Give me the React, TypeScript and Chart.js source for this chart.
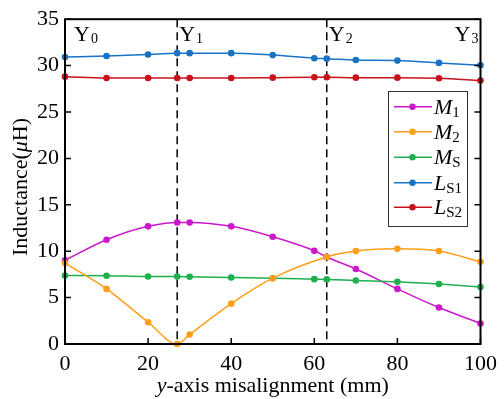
import React, { useEffect, useRef } from "react";
import { Chart, registerables } from "chart.js";

Chart.register(...registerables);

const xPos = [0, 10, 20, 27, 30, 40, 50, 60, 63, 70, 80, 90, 100];
const M1 = [9.03, 11.24, 12.68, 13.1, 13.1, 12.68, 11.56, 10.05, 9.38, 8.08, 5.94, 3.93, 2.21];
const M2 = [8.72, 5.94, 2.35, 0.0, 1.02, 4.35, 7.09, null, 9.38, 10.01, 10.26, 10.01, 8.86];
const MS = [7.38, 7.36, 7.27, 7.27, 7.24, 7.17, 7.09, 6.99, 6.96, 6.85, 6.71, 6.46, 6.15];
const LS1 = [30.92, 31.03, 31.2, 31.34, 31.34, 31.34, 31.13, 30.8, 30.75, 30.6, 30.54, 30.29, 30.04];
const LS2 = [28.81, 28.67, 28.67, 28.67, 28.67, 28.67, 28.7, 28.74, 28.74, 28.7, 28.7, 28.63, 28.39];

const seriesMain = ["M", "M", "M", "L", "L"];
const seriesSub = ["1", "2", "S", "S1", "S2"];
const seriesColors = ["#CC17CC", "#FF9E1B", "#1FB04E", "#1A72C6", "#C8121C"];
const seriesData = [M1, M2, MS, LS1, LS2];
const seriesOrder = [2, 0, 1, 3, 4];

const markerX = [27, 63];
const markerLabels = ["Y", "Y", "Y", "Y"];
const markerSubs = ["0", "1", "2", "3"];
const markerPos = [0, 27, 63, 100];

const yTicks = [0, 5, 10, 15, 20, 25, 30, 35];
const xTicks = [0, 20, 40, 60, 80, 100];

const SERIF = "'Liberation Serif', 'Times New Roman', serif";

const overlay = {
  id: "overlay",
  beforeDatasetsDraw(chart: any) {
    const { ctx, chartArea, scales } = chart;
    ctx.save();
    ctx.strokeStyle = "#000";
    ctx.lineWidth = 1.5;
    ctx.setLineDash([8, 5]);
    markerX.forEach((v) => {
      const px = scales.x.getPixelForValue(v);
      ctx.beginPath();
      ctx.moveTo(px, chartArea.top);
      ctx.lineTo(px, chartArea.bottom);
      ctx.stroke();
    });
    ctx.restore();
  },
  afterDraw(chart: any) {
    const { ctx, chartArea, scales } = chart;
    const { left, right, top, bottom } = chartArea;
    ctx.save();
    // frame
    ctx.strokeStyle = "#000";
    ctx.lineWidth = 2;
    ctx.setLineDash([]);
    ctx.strokeRect(left, top, right - left, bottom - top);
    // inward ticks
    const tl = 6;
    ctx.lineWidth = 1.5;
    ctx.beginPath();
    yTicks.forEach((v) => {
      const py = scales.y.getPixelForValue(v);
      ctx.moveTo(left, py);
      ctx.lineTo(left + tl, py);
      ctx.moveTo(right, py);
      ctx.lineTo(right - tl, py);
    });
    xTicks.forEach((v) => {
      const px = scales.x.getPixelForValue(v);
      ctx.moveTo(px, bottom);
      ctx.lineTo(px, bottom - tl);
    });
    ctx.stroke();

    ctx.fillStyle = "#000";
    ctx.textBaseline = "alphabetic";
    // Y markers
    markerPos.forEach((v, i) => {
      const px = scales.x.getPixelForValue(v);
      ctx.font = `22px ${SERIF}`;
      const w1 = ctx.measureText(markerLabels[i]).width;
      ctx.font = `14px ${SERIF}`;
      const w2 = ctx.measureText(markerSubs[i]).width;
      let x0 = px + (i === 0 ? 9 : 2);
      if (i === markerPos.length - 1) x0 = px - 3 - w1 - w2;
      const by = top + 22;
      ctx.font = `22px ${SERIF}`;
      ctx.fillText(markerLabels[i], x0, by);
      ctx.font = `14px ${SERIF}`;
      ctx.fillText(markerSubs[i], x0 + w1 + 1, by + 2);
    });

    // legend
    const lx = 388, ly = 91, lw = 79, lh = 135;
    ctx.fillStyle = "#fff";
    ctx.fillRect(lx, ly, lw, lh);
    ctx.strokeStyle = "#333";
    ctx.lineWidth = 1;
    ctx.strokeRect(lx + 0.5, ly + 0.5, lw, lh);
    const rowY = [106.7, 131.7, 157.3, 182.7, 207.3];
    chart.data.datasets.forEach((ds: any, i: number) => {
      const y = rowY[i];
      ctx.strokeStyle = ds.borderColor;
      ctx.lineWidth = 1.5;
      ctx.beginPath();
      ctx.moveTo(394, y);
      ctx.lineTo(432, y);
      ctx.stroke();
      ctx.fillStyle = ds.borderColor;
      ctx.beginPath();
      ctx.arc(412.5, y, 3.2, 0, Math.PI * 2);
      ctx.fill();
      ctx.fillStyle = "#000";
      ctx.font = `italic 22px ${SERIF}`;
      ctx.fillText(seriesMain[i], 434, y + 7);
      const w = ctx.measureText(seriesMain[i]).width;
      ctx.font = `15px ${SERIF}`;
      ctx.fillText(seriesSub[i], 434 + w, y + 10);
    });

    // x title
    ctx.fillStyle = "#000";
    const xParts: [string, boolean][] = [["y", true], ["-axis misalignment (mm)", false]];
    let total = 0;
    xParts.forEach(([t, it]) => {
      ctx.font = `${it ? "italic " : ""}22px ${SERIF}`;
      total += ctx.measureText(t).width;
    });
    let cx = (left + right) / 2 - total / 2;
    xParts.forEach(([t, it]) => {
      ctx.font = `${it ? "italic " : ""}22px ${SERIF}`;
      ctx.fillText(t, cx, 392);
      cx += ctx.measureText(t).width;
    });

    // y title
    const yParts: [string, boolean][] = [["Inductance(", false], ["\u03bc", true], ["H)", false]];
    total = 0;
    yParts.forEach(([t, it]) => {
      ctx.font = `${it ? "italic " : ""}22px ${SERIF}`;
      total += ctx.measureText(t).width;
    });
    ctx.translate(27, 187);
    ctx.rotate(-Math.PI / 2);
    cx = -total / 2;
    yParts.forEach(([t, it]) => {
      ctx.font = `${it ? "italic " : ""}22px ${SERIF}`;
      ctx.fillText(t, cx, 0);
      cx += ctx.measureText(t).width;
    });
    ctx.restore();
  },
};

export default function App() {
  const ref = useRef<HTMLCanvasElement>(null);
  useEffect(() => {
    if (!ref.current) return;
    const chart = new Chart(ref.current, {
      type: "line",
      data: {
        datasets: seriesData.map((arr, i) => ({
          label: seriesMain[i] + seriesSub[i],
          data: xPos.map((x, j) => ({ x, y: arr[j] })),
          borderColor: seriesColors[i],
          backgroundColor: seriesColors[i],
          borderWidth: 1.5,
          pointRadius: 3.3,
          pointHoverRadius: 3.3,
          pointBorderWidth: 0,
          cubicInterpolationMode: "monotone" as const,
          spanGaps: true,
          clip: false as any,
          order: seriesOrder[i],
        })),
      },
      options: {
        animation: false,
        responsive: false,
        events: [],
        layout: { padding: { left: 0, top: 13, right: 18, bottom: 0 } },
        plugins: { legend: { display: false }, tooltip: { enabled: false } },
        scales: {
          x: {
            type: "linear",
            min: 0,
            max: 100,
            afterBuildTicks: (s: any) => {
              s.ticks = xTicks.map((v) => ({ value: v }));
            },
            afterFit: (s: any) => {
              s.height = 55;
            },
            grid: { display: false, drawTicks: false },
            border: { display: false },
            ticks: { color: "#000", font: { family: SERIF, size: 22 }, padding: 7, maxRotation: 0 },
          },
          y: {
            type: "linear",
            min: 0,
            max: 35,
            afterBuildTicks: (s: any) => {
              s.ticks = yTicks.map((v) => ({ value: v }));
            },
            afterFit: (s: any) => {
              s.width = 65;
            },
            grid: { display: false, drawTicks: false },
            border: { display: false },
            ticks: { color: "#000", font: { family: SERIF, size: 22 }, padding: 6 },
          },
        },
      },
      plugins: [overlay],
    });
    return () => chart.destroy();
  }, []);
  return (
    <div style={{ position: "absolute", left: 0, top: 0, width: 504, height: 399, background: "#fff" }}>
      <canvas ref={ref} width={504} height={399} />
    </div>
  );
}
